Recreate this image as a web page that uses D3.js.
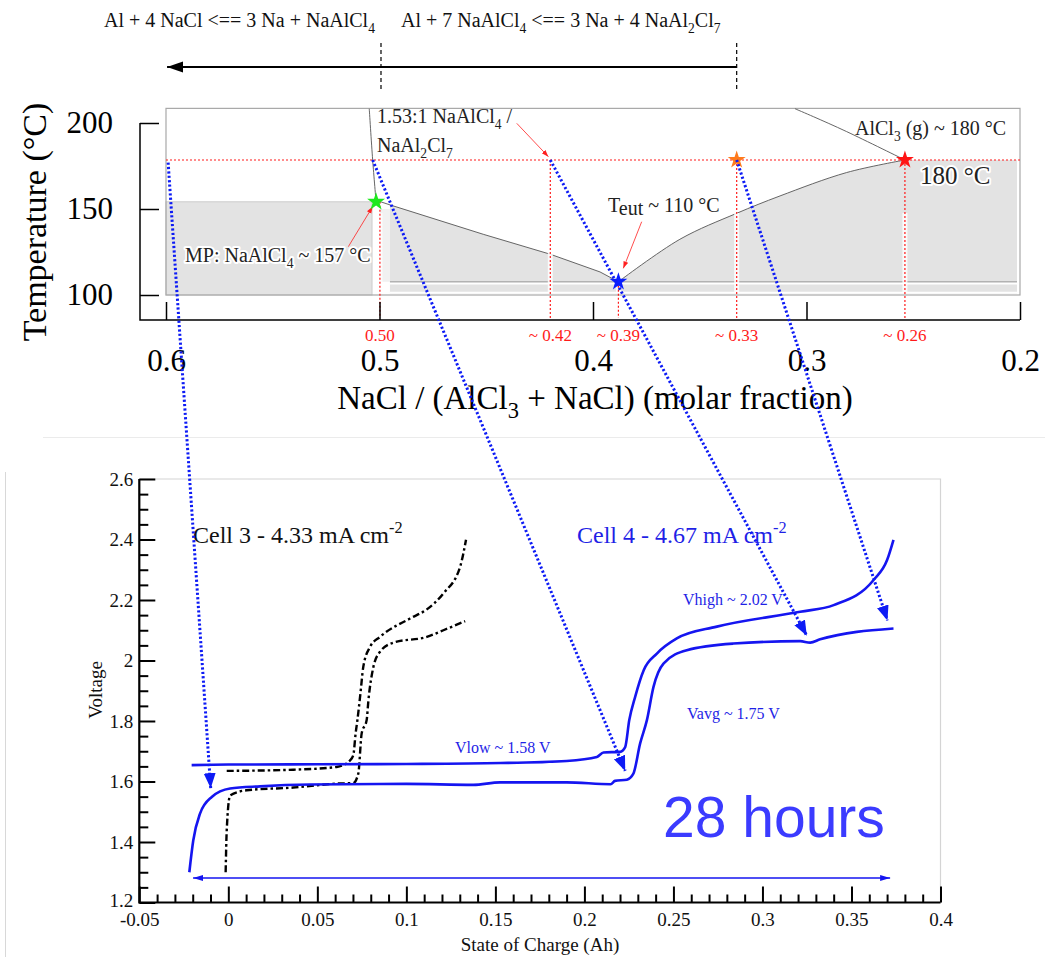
<!DOCTYPE html>
<html lang="en">
<head>
<meta charset="utf-8">
<title>NaAlCl4 phase diagram and cell voltage</title>
<script src="https://cdn.jsdelivr.net/npm/d3@7"></script>
<style>
  body { margin: 0; background: #fff; }
  text { font-family: "Liberation Serif", "Times New Roman", serif; }
</style>
</head>
<body>
<script>
// ---------- phase diagram (NaCl molar fraction, temperature in °C)
var fracTicks = [0.6, 0.5, 0.4, 0.3, 0.2];
var fracTickLabels = ["0.6", "0.5", "0.4", "0.3", "0.2"];
var tempTicks = [100, 150, 200];
var tempTickLabels = ["100", "150", "200"];
var gasTemp = 178.5;
var eutecticTemp = 107.7;
var frameTop = 208.5;
var solidLeft = [0.6, 0.5035, 154.2];          // from, to, top temperature
var meltLine = [[0.5048, 208.3], [0.5032, 178.5], [0.5016, 154.2]];
var liquidusLeft = [[0.4951, 152.4], [0.4514, 135.3], [0.42, 123.7], [0.3967, 113.4], [0.3881, 107.7]];
var liquidusRight = [[0.3881, 107.7], [0.3593, 132.4], [0.3327, 147.5], [0.3124, 157.6], [0.2812, 171.2], [0.2539, 178.5]];
var liquidusStart = [[0.5016, 154.2], [0.4990, 154.0], [0.4951, 152.4]];
var gasCurve = [[0.3054, 208.3], [0.2968, 203.7], [0.2812, 195.0], [0.2539, 178.5]];
var starFrac = [0.5016, 0.3881, 0.3327, 0.2539];
var starTemp = [154.2, 107.7, 178.5, 178.5];
var starColors = ["#1ee81e", "#0a1eff", "#ff7a1c", "#ff1414"];
var guideFrac = [0.4998, 0.42, 0.3881, 0.3327, 0.2539];
var guideTop = [154.2, 178.5, 107.7, 178.5, 178.5];
var guideLabels = ["0.50", "~ 0.42", "~ 0.39", "~ 0.33", "~ 0.26"];
var reactionBounds = [0.4993, 0.3327];
var reactionArrowTip = 0.5995;
// thin red pointers: [frac, T] -> [frac, T]
var pointerFrom = [[0.5146, 128.1], [0.4357, 199.8], [0.3772, 142.6]];
var pointerTo = [[0.5032, 151.4], [0.4209, 180.4], [0.3858, 115.5]];

// ---------- voltage profiles (state of charge in Ah, voltage in V)
var socTicks = [-0.05, 0, 0.05, 0.1, 0.15, 0.2, 0.25, 0.3, 0.35, 0.4];
var socTickLabels = ["-0.05", "0", "0.05", "0.1", "0.15", "0.2", "0.25", "0.3", "0.35", "0.4"];
var voltTicks = [1.2, 1.4, 1.6, 1.8, 2, 2.2, 2.4, 2.6];
var voltTickLabels = ["1.2", "1.4", "1.6", "1.8", "2", "2.2", "2.4", "2.6"];

var cell4Charge = [[-0.0206, 1.654], [0.0, 1.656], [0.05, 1.657], [0.10, 1.658], [0.153, 1.661], [0.19, 1.668],
  [0.207, 1.681], [0.2107, 1.696], [0.220, 1.698], [0.2229, 1.714], [0.2252, 1.803], [0.2285, 1.880],
  [0.2333, 1.968], [0.2407, 2.023], [0.2519, 2.073], [0.2744, 2.112], [0.3212, 2.161], [0.340, 2.183],
  [0.3624, 2.266], [0.370, 2.332], [0.3736, 2.399]];
var cell4Discharge = [[-0.0219, 1.300], [-0.0197, 1.405], [-0.0159, 1.494], [-0.0093, 1.549], [0.001, 1.577],
  [0.0178, 1.584], [0.0459, 1.590], [0.10, 1.592], [0.1376, 1.589], [0.1526, 1.597], [0.19, 1.597],
  [0.2147, 1.591], [0.2172, 1.602], [0.2238, 1.606], [0.2275, 1.626], [0.2313, 1.726], [0.2351, 1.803],
  [0.2388, 1.913], [0.2444, 1.990], [0.2575, 2.034], [0.2837, 2.056], [0.3212, 2.064], [0.3268, 2.059],
  [0.3324, 2.070], [0.3736, 2.106]];
var cell3Charge = [[-0.0009, 1.635], [0.0365, 1.639], [0.0609, 1.648], [0.0684, 1.670], [0.0702, 1.687],
  [0.0715, 1.759], [0.0725, 1.803], [0.0742, 1.891], [0.0758, 1.979], [0.0796, 2.045], [0.0852, 2.078],
  [0.1021, 2.139], [0.1115, 2.169], [0.1208, 2.222], [0.1302, 2.310], [0.1335, 2.399]];
var cell3Discharge = [[-0.0015, 1.300], [-0.0009, 1.438], [0.001, 1.554], [0.0103, 1.571], [0.0365, 1.580],
  [0.0609, 1.593], [0.0702, 1.595], [0.073, 1.626], [0.0749, 1.759], [0.0777, 1.803], [0.0787, 1.869],
  [0.0815, 1.979], [0.0852, 2.029], [0.0927, 2.059], [0.1115, 2.078], [0.1208, 2.100], [0.133, 2.130]];

// dotted links from the phase diagram to the voltage curves
var linkFrom = [[0.599, 177], [0.5032, 178.5], [0.42, 178.5], [0.3327, 178.5]];
var linkTo = [[-0.0099, 1.578], [0.2229, 1.635], [0.3249, 2.082], [0.3702, 2.132]];
var spanSoc = [-0.0198, 0.3717];
var spanVolt = 1.281;

//Width and height
var w = 1045, h = 957;

var xT = d3.scaleLinear().domain([0.6, 0.2]).range([166, 1020]);
var yT = d3.scaleLinear().domain([100, 200]).range([295, 123]);
var xB = d3.scaleLinear().domain([-0.05, 0.4]).range([139.3, 940.5]);
var yB = d3.scaleLinear().domain([1.2, 2.6]).range([902.5, 479]);

var svg = d3.select("body").append("svg").attr("width", w).attr("height", h);

var defs = svg.append("defs");
function marker(id, len, wid, color) {
  defs.append("marker").attr("id", id)
    .attr("markerUnits", "userSpaceOnUse")
    .attr("markerWidth", len + 2).attr("markerHeight", wid + 2)
    .attr("refX", len).attr("refY", wid / 2)
    .attr("orient", "auto-start-reverse")
    .append("path").attr("d", "M0,0L" + len + "," + (wid / 2) + "L0," + wid + "Z").attr("fill", color);
}
marker("blueHead", 15, 12, "#0d1bf5");
marker("redHead", 7, 5, "#ff2020");
marker("spanHead", 10, 6, "#1515f0");
marker("blackHead", 16, 11, "#000");

// rich text helper for sub / superscripts
function rich(g, x, y, parts, size, color, anchor) {
  var t = g.append("text").attr("x", x).attr("y", y).attr("font-size", size).attr("fill", color);
  if (anchor) t.attr("text-anchor", anchor);
  var shift = 0;
  parts.forEach(function(p) {
    var s = p[1] === "sub" ? size * 0.28 : p[1] === "sup" ? -size * 0.4 : p[1] === "low" ? size * 0.15 : 0;
    var ts = t.append("tspan").text(p[0]).attr("dy", s - shift);
    if (p[1] === "sub" || p[1] === "sup") ts.attr("font-size", size * 0.68);
    shift = s;
  });
  return t;
}
function halo(t) {
  return t.attr("stroke", "#fff").attr("stroke-width", 4).attr("paint-order", "stroke").attr("stroke-linejoin", "round");
}

// faint separators of the pasted panels
svg.append("line").attr("x1", 43).attr("x2", w).attr("y1", 437.5).attr("y2", 437.5).attr("stroke", "#ebebeb");
svg.append("line").attr("x1", 5.5).attr("x2", 5.5).attr("y1", 472).attr("y2", h).attr("stroke", "#d8d8d8");

// ================= reactions above the diagram
var rxn = svg.append("g");
rich(rxn, 104, 27, [["Al + 4 NaCl <== 3 Na + NaAlCl"], ["4", "sub"]], 20, "#111");
rich(rxn, 401, 27, [["Al + 7 NaAlCl"], ["4", "sub"], [" <== 3 Na + 4 NaAl"], ["2", "sub"], ["Cl"], ["7", "sub"]], 20, "#111");
rxn.selectAll("line.bound").data(reactionBounds).enter().append("line")
  .attr("x1", function(d) { return xT(d); }).attr("x2", function(d) { return xT(d); })
  .attr("y1", 43).attr("y2", 92)
  .attr("stroke", "#000").attr("stroke-width", 1.2).attr("stroke-dasharray", "4,3");
rxn.append("line")
  .attr("x1", xT(reactionBounds[1])).attr("x2", xT(reactionArrowTip))
  .attr("y1", 67).attr("y2", 67)
  .attr("stroke", "#000").attr("stroke-width", 2)
  .attr("marker-end", "url(#blackHead)");

// ================= phase diagram
var pd = svg.append("g");
var gray = "#e3e3e3";

// solid regions
pd.append("rect")
  .attr("x", xT(solidLeft[0])).attr("y", yT(solidLeft[2]))
  .attr("width", xT(solidLeft[1]) - xT(solidLeft[0])).attr("height", yT(100) - yT(solidLeft[2]))
  .attr("fill", gray).attr("stroke", "#cdcdcd").attr("stroke-width", 1);

var lineLin = d3.line().x(function(d) { return xT(d[0]); }).y(function(d) { return yT(d[1]); });
var lineT = d3.line().x(function(d) { return xT(d[0]); }).y(function(d) { return yT(d[1]); })
  .curve(d3.curveCatmullRom.alpha(0.5));
var leftPath = lineLin(liquidusLeft);
var rightPath = lineT(liquidusRight).replace(/^M/, "L");
var rightEnd = liquidusRight[liquidusRight.length - 1];
var solidRight = leftPath + rightPath +
  "L" + (xT(0.2) - 3) + "," + yT(rightEnd[1]) +
  "L" + (xT(0.2) - 3) + "," + (yT(100) - 1) +
  "L" + xT(liquidusLeft[0][0]) + "," + (yT(100) - 1) + "Z";
pd.append("path").attr("d", solidRight).attr("fill", gray);
pd.append("rect")
  .attr("x", xT(0.4998)).attr("y", yT(150))
  .attr("width", xT(liquidusLeft[0][0]) - xT(0.4998)).attr("height", yT(eutecticTemp) - yT(150))
  .attr("fill", "#f1f1f1");

// bands under the eutectic line
pd.append("line").attr("x1", xT(liquidusLeft[0][0])).attr("x2", xT(0.2) - 3)
  .attr("y1", yT(106.6)).attr("y2", yT(106.6)).attr("stroke", "#fff").attr("stroke-width", 1.8);
pd.append("line").attr("x1", xT(liquidusLeft[0][0])).attr("x2", xT(0.2) - 3)
  .attr("y1", yT(101.3)).attr("y2", yT(101.3)).attr("stroke", "#fff").attr("stroke-width", 2);
pd.append("line").attr("x1", xT(liquidusLeft[0][0])).attr("x2", xT(0.2) - 3)
  .attr("y1", yT(eutecticTemp)).attr("y2", yT(eutecticTemp)).attr("stroke", "#9a9a9a").attr("stroke-width", 0.9);

// frame
pd.append("rect")
  .attr("x", xT(0.6)).attr("y", yT(frameTop))
  .attr("width", xT(0.2) - xT(0.6)).attr("height", yT(100) - yT(frameTop))
  .attr("fill", "none").attr("stroke", "#a8a8a8").attr("stroke-width", 1.2);

// phase boundaries
pd.append("path").attr("d", lineLin(liquidusStart.concat(liquidusLeft.slice(1))))
  .attr("fill", "none").attr("stroke", "#555").attr("stroke-width", 0.9);
[meltLine, liquidusRight, gasCurve].forEach(function(pts) {
  pd.append("path").attr("d", lineT(pts)).attr("fill", "none").attr("stroke", "#555").attr("stroke-width", 0.9);
});

// red guides
pd.append("line").attr("x1", xT(0.6)).attr("x2", xT(0.2))
  .attr("y1", yT(gasTemp)).attr("y2", yT(gasTemp))
  .attr("stroke", "#ff1a1a").attr("stroke-width", 1.2).attr("stroke-dasharray", "2,2");
pd.selectAll("line.halo").data(guideFrac).enter().append("line")
  .attr("x1", function(d) { return xT(d); }).attr("x2", function(d) { return xT(d); })
  .attr("y1", function(d, i) { return yT(Math.min(guideTop[i], 150)) + 4; }).attr("y2", yT(100) - 2)
  .attr("stroke", "#fff").attr("stroke-width", 5).attr("opacity", 0.85);
pd.selectAll("line.guide").data(guideFrac).enter().append("line")
  .attr("x1", function(d) { return xT(d); }).attr("x2", function(d) { return xT(d); })
  .attr("y1", function(d, i) { return yT(guideTop[i]); }).attr("y2", 318)
  .attr("stroke", "#ff1a1a").attr("stroke-width", 1.2).attr("stroke-dasharray", "2,2");
pd.selectAll("text.guide").data(guideLabels).enter().append("text")
  .attr("x", function(d, i) { return xT(guideFrac[i]); }).attr("y", 341)
  .attr("text-anchor", "middle").attr("font-size", 17).attr("fill", "#ff1a1a")
  .text(function(d) { return d; });

// axes
var axisY = d3.axisLeft(yT).tickValues(tempTicks)
  .tickFormat(function(d, i) { return tempTickLabels[i]; })
  .tickSizeInner(-19).tickSizeOuter(0).tickPadding(27);
var gy = pd.append("g").attr("transform", "translate(140,0)").call(axisY);
var axisX = d3.axisBottom(xT).tickValues(fracTicks)
  .tickFormat(function(d, i) { return fracTickLabels[i]; })
  .tickSizeInner(-18).tickSizeOuter(0).tickPadding(29);
var gx = pd.append("g").attr("transform", "translate(0,320)").call(axisX);
[gx, gy].forEach(function(g) {
  g.select("path.domain").remove();
  g.selectAll(".tick line").attr("stroke", "#000").attr("stroke-width", 1.5);
  g.selectAll(".tick text").attr("font-size", 31).attr("fill", "#000");
});
pd.append("path").attr("d", "M140," + yT(200) + "V320H" + xT(0.2))
  .attr("fill", "none").attr("stroke", "#000").attr("stroke-width", 1.5);

pd.append("text").attr("transform", "translate(46," + 222 + ") rotate(-90)")
  .attr("text-anchor", "middle").attr("font-size", 34).attr("fill", "#000")
  .text("Temperature (°C)");
rich(pd, 595, 409, [["NaCl / (AlCl"], ["3", "sub"], [" + NaCl) (molar fraction)"]], 33, "#000", "middle");

// annotations
halo(rich(pd, 185, 262, [["MP: NaAlCl"], ["4", "sub"], [" ~ 157 °C"]], 20, "#222"));
rich(pd, 377, 123, [["1.53:1 NaAlCl"], ["4", "sub"], [" /"]], 20, "#222");
rich(pd, 377, 152, [["NaAl"], ["2", "sub"], ["Cl"], ["7", "sub"]], 20, "#222");
rich(pd, 608, 212, [["T"], ["eut", "low"], [" ~ 110 °C"]], 20, "#222");
rich(pd, 855, 135, [["AlCl"], ["3", "sub"], [" (g) ~ 180 °C"]], 20, "#222");
halo(pd.append("text").attr("x", 920).attr("y", 184).attr("font-size", 25).attr("fill", "#222").text("180 °C"));

pd.selectAll("line.pointer").data(pointerFrom).enter().append("line")
  .attr("x1", function(d) { return xT(d[0]); }).attr("y1", function(d) { return yT(d[1]); })
  .attr("x2", function(d, i) { return xT(pointerTo[i][0]); }).attr("y2", function(d, i) { return yT(pointerTo[i][1]); })
  .attr("stroke", "#ff2020").attr("stroke-width", 0.8).attr("marker-end", "url(#redHead)");

// stars
pd.selectAll("path.star").data(starFrac).enter().append("path")
  .attr("d", d3.symbol().type(d3.symbolStar).size(100))
  .attr("transform", function(d, i) { return "translate(" + xT(d) + "," + yT(starTemp[i]) + ")"; })
  .attr("fill", function(d, i) { return starColors[i]; });

// ================= voltage profiles
var vp = svg.append("g");
vp.append("path").attr("d", "M" + xB(-0.05) + "," + yB(2.6) + "H" + xB(0.4) + "V" + yB(1.2))
  .attr("fill", "none").attr("stroke", "#d4d4d4").attr("stroke-width", 1.2);

var lineB = d3.line().x(function(d) { return xB(d[0]); }).y(function(d) { return yB(d[1]); })
  .curve(d3.curveMonotoneX);
[cell3Charge, cell3Discharge].forEach(function(pts) {
  vp.append("path").attr("d", lineB(pts)).attr("fill", "none")
    .attr("stroke", "#000").attr("stroke-width", 2.4).attr("stroke-dasharray", "7,3,2.5,3");
});
[cell4Charge, cell4Discharge].forEach(function(pts) {
  vp.append("path").attr("d", lineB(pts)).attr("fill", "none")
    .attr("stroke", "#1515f0").attr("stroke-width", 2.6).attr("stroke-linejoin", "round");
});

// axes with minor ticks
var minorV = d3.range(1.25, 2.6, 0.05).filter(function(v) { return Math.abs(v * 5 - Math.round(v * 5)) > 0.01; });
var minorS = d3.range(-0.04, 0.4, 0.01).filter(function(v) { return Math.abs(v * 20 - Math.round(v * 20)) > 0.01; });
var gyB = vp.append("g").attr("transform", "translate(" + xB(-0.05) + ",0)")
  .call(d3.axisLeft(yB).tickValues(voltTicks).tickFormat(function(d, i) { return voltTickLabels[i]; })
    .tickSizeInner(-16).tickSizeOuter(0).tickPadding(6));
var gyBm = vp.append("g").attr("transform", "translate(" + xB(-0.05) + ",0)")
  .call(d3.axisLeft(yB).tickValues(minorV).tickFormat("").tickSizeInner(-9).tickSizeOuter(0));
var gxB = vp.append("g").attr("transform", "translate(0," + yB(1.2) + ")")
  .call(d3.axisBottom(xB).tickValues(socTicks).tickFormat(function(d, i) { return socTickLabels[i]; })
    .tickSizeInner(-16).tickSizeOuter(0).tickPadding(10));
var gxBm = vp.append("g").attr("transform", "translate(0," + yB(1.2) + ")")
  .call(d3.axisBottom(xB).tickValues(minorS).tickFormat("").tickSizeInner(-8).tickSizeOuter(0));
[gyB, gyBm, gxB, gxBm].forEach(function(g) {
  g.select("path.domain").remove();
  g.selectAll(".tick line").attr("stroke", "#000").attr("stroke-width", 2);
  g.selectAll(".tick text").attr("font-size", 19).attr("fill", "#111");
});
// keep the lowest voltage label clear of the first SoC label
gyB.selectAll(".tick text").filter(function(d) { return d === 1.2; }).attr("dy", "0.2em");
vp.append("path").attr("d", "M" + xB(-0.05) + "," + yB(2.6) + "V" + yB(1.2) + "H" + xB(0.4))
  .attr("fill", "none").attr("stroke", "#000").attr("stroke-width", 2.2);

vp.append("text").attr("transform", "translate(102,690) rotate(-90)")
  .attr("text-anchor", "middle").attr("font-size", 19).attr("fill", "#111").text("Voltage");
vp.append("text").attr("x", 540).attr("y", 951)
  .attr("text-anchor", "middle").attr("font-size", 19).attr("fill", "#111").text("State of Charge (Ah)");

rich(vp, 193, 543, [["Cell 3 - 4.33 mA cm"], ["-2", "sup"]], 24, "#111");
rich(vp, 577, 543, [["Cell 4 - 4.67 mA cm"], ["-2", "sup"]], 24, "#1f1fe6");
vp.append("text").attr("x", 683).attr("y", 605).attr("font-size", 16).attr("fill", "#1f1fe6").text("Vhigh ~ 2.02 V");
vp.append("text").attr("x", 687).attr("y", 719).attr("font-size", 16).attr("fill", "#1f1fe6").text("Vavg ~ 1.75 V");
vp.append("text").attr("x", 455).attr("y", 753).attr("font-size", 16).attr("fill", "#1f1fe6").text("Vlow ~ 1.58 V");
vp.append("text").attr("x", 663).attr("y", 837).attr("font-size", 57).attr("fill", "#3b3bff")
  .style("font-family", "'Liberation Sans', Arial, sans-serif").text("28 hours");

vp.append("line")
  .attr("x1", xB(spanSoc[0])).attr("x2", xB(spanSoc[1]))
  .attr("y1", yB(spanVolt)).attr("y2", yB(spanVolt))
  .attr("stroke", "#1515f0").attr("stroke-width", 1.5)
  .attr("marker-start", "url(#spanHead)").attr("marker-end", "url(#spanHead)");

// ================= dotted links between both panels
svg.append("g").selectAll("line").data(linkFrom).enter().append("line")
  .attr("x1", function(d) { return xT(d[0]); }).attr("y1", function(d) { return yT(d[1]); })
  .attr("x2", function(d, i) { return xB(linkTo[i][0]); }).attr("y2", function(d, i) { return yB(linkTo[i][1]); })
  .attr("stroke", "#0d1bf5").attr("stroke-width", 3).attr("stroke-dasharray", "2.2,2.2")
  .attr("marker-end", "url(#blueHead)");
</script>
</body>
</html>
